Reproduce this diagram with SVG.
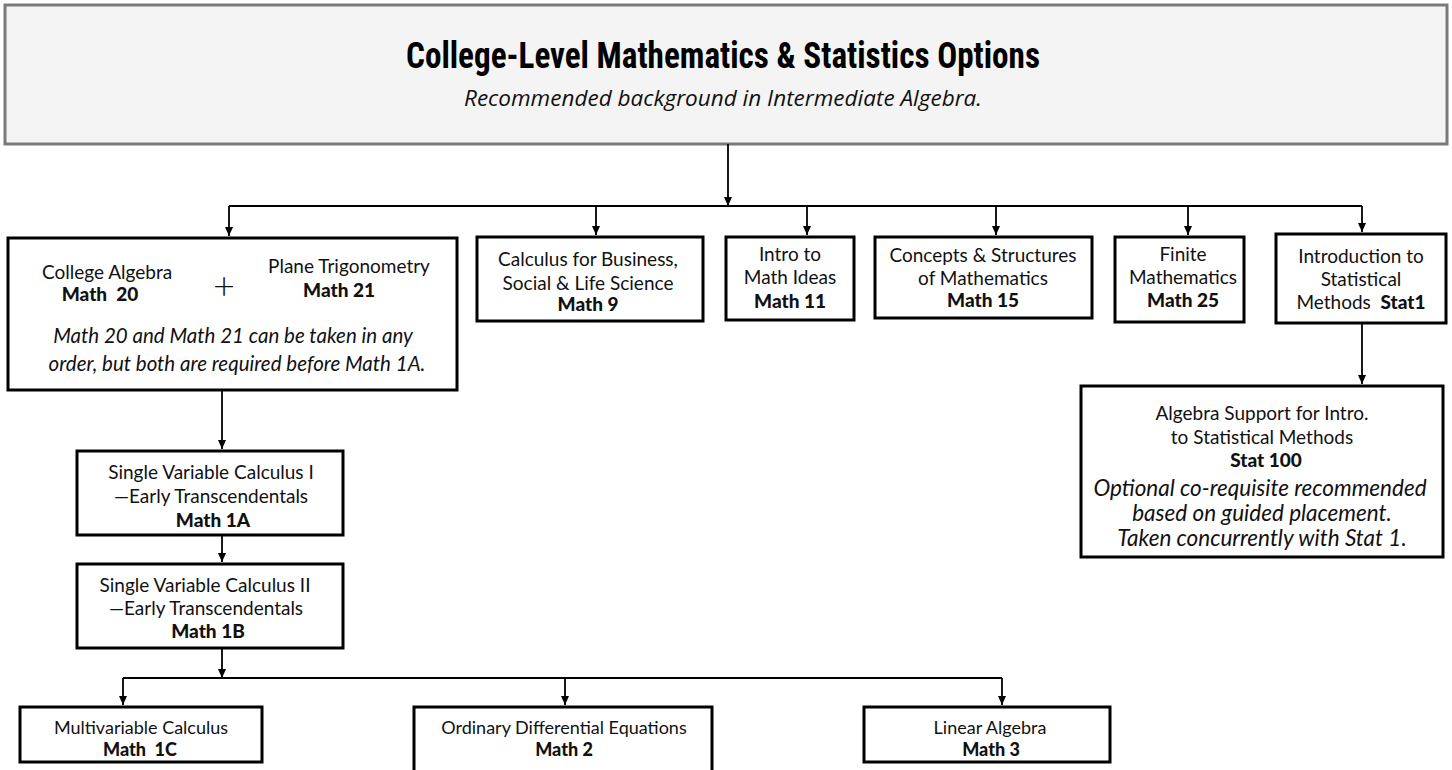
<svg xmlns="http://www.w3.org/2000/svg" width="1452" height="770" viewBox="0 0 1452 770">
<defs>
<marker id="arr" markerUnits="userSpaceOnUse" markerWidth="10" markerHeight="10" refX="9" refY="5" orient="auto">
<path d="M0,1 L9,5 L0,9 z" fill="#000"/>
</marker>
<style>
.box{fill:#fff;stroke:#000;stroke-width:3}
.tbox{fill:#f4f4f4;stroke:#7a7a7a;stroke-width:3}
.t{font-family:Lato,"Open Sans","Liberation Sans",sans-serif;font-size:19px;fill:#111;text-anchor:middle}
.b{font-weight:900}
.i{font-style:italic}
.sm{font-size:18px}
.title{font-family:"Liberation Sans Narrow","Roboto Condensed",Roboto,"Liberation Sans",sans-serif;font-weight:700;font-size:36px;fill:#000;text-anchor:middle}
.sub{font-family:"Open Sans",Lato,"Liberation Sans",sans-serif;font-style:italic;font-size:22px;fill:#111;text-anchor:middle}
.c{stroke:#000;stroke-width:1.8;fill:none}
.ca{stroke:#000;stroke-width:1.8;fill:none;marker-end:url(#arr)}
</style>
</defs>
<g id="title">
<rect class="tbox" x="5" y="5" width="1442" height="139"/>
<text class="title" x="723" y="68" textLength="634" lengthAdjust="spacingAndGlyphs">College-Level Mathematics &amp; Statistics Options</text>
<text class="sub" x="723" y="106" textLength="518" lengthAdjust="spacingAndGlyphs">Recommended background in Intermediate Algebra.</text>
</g>
<g id="connectors">
<line class="ca" x1="728" y1="144" x2="728" y2="206"/>
<line class="c" x1="229" y1="206" x2="1362" y2="206"/>
<line class="ca" x1="229" y1="206" x2="229" y2="236"/>
<line class="ca" x1="596" y1="206" x2="596" y2="235"/>
<line class="ca" x1="807" y1="206" x2="807" y2="235"/>
<line class="ca" x1="996" y1="206" x2="996" y2="235"/>
<line class="ca" x1="1188" y1="206" x2="1188" y2="235"/>
<line class="ca" x1="1362" y1="206" x2="1362" y2="232"/>
<line class="ca" x1="1362" y1="323" x2="1362" y2="384"/>
<line class="ca" x1="222" y1="391" x2="222" y2="449"/>
<line class="ca" x1="222" y1="535" x2="222" y2="562"/>
<line class="ca" x1="222" y1="648" x2="222" y2="678"/>
<line class="c" x1="123" y1="678" x2="1002" y2="678"/>
<line class="ca" x1="123" y1="678" x2="123" y2="705"/>
<line class="ca" x1="565" y1="678" x2="565" y2="705"/>
<line class="ca" x1="1002" y1="678" x2="1002" y2="705"/>
</g>
<g id="math20-21">
<rect class="box" x="8" y="238" width="449" height="152"/>
<text class="t" x="107" y="279">College Algebra</text>
<text class="t b" x="100" y="301" style="white-space:pre">Math  20</text>
<text class="t" x="224" y="299" style="font-size:38px;font-weight:300">+</text>
<text class="t" x="349" y="273">Plane Trigonometry</text>
<text class="t b" x="339" y="297">Math 21</text>
<text class="t i" x="233" y="343" style="font-size:20.5px">Math 20 and Math 21 can be taken in any</text>
<text class="t i" x="237" y="371" style="font-size:20.5px">order, but both are required before Math 1A.</text>
</g>
<g id="math9">
<rect class="box" x="477" y="237" width="226" height="84"/>
<text class="t" x="588" y="266">Calculus for Business,</text>
<text class="t" x="588" y="290">Social &amp; Life Science</text>
<text class="t b" x="588" y="311">Math 9</text>
</g>
<g id="math11">
<rect class="box" x="726" y="237" width="128" height="83"/>
<text class="t" x="790" y="261">Intro to</text>
<text class="t" x="790" y="284">Math Ideas</text>
<text class="t b" x="790" y="308">Math 11</text>
</g>
<g id="math15">
<rect class="box" x="875" y="237" width="217" height="81"/>
<text class="t" x="983" y="262">Concepts &amp; Structures</text>
<text class="t" x="983" y="285">of Mathematics</text>
<text class="t b" x="983" y="307">Math 15</text>
</g>
<g id="math25">
<rect class="box" x="1115" y="237" width="129" height="85"/>
<text class="t" x="1183" y="261">Finite</text>
<text class="t" x="1183" y="284">Mathematics</text>
<text class="t b" x="1183" y="307">Math 25</text>
</g>
<g id="stat1">
<rect class="box" x="1276" y="234" width="170" height="89"/>
<text class="t" x="1361" y="263">Introduction to</text>
<text class="t" x="1361" y="286">Statistical</text>
<text class="t" x="1361" y="309" style="white-space:pre">Methods  <tspan class="b">Stat1</tspan></text>
</g>
<g id="stat100">
<rect class="box" x="1081" y="386" width="362" height="171"/>
<text class="t" x="1262" y="420">Algebra Support for Intro.</text>
<text class="t" x="1262" y="444">to Statistical Methods</text>
<text class="t b" x="1266" y="467">Stat 100</text>
<text class="t i" x="1260" y="496" style="font-size:22.5px">Optional co-requisite recommended</text>
<text class="t i" x="1262" y="521" style="font-size:22.5px">based on guided placement.</text>
<text class="t i" x="1262" y="546" style="font-size:22.5px">Taken concurrently with Stat 1.</text>
</g>
<g id="math1a">
<rect class="box" x="77" y="451" width="266" height="84"/>
<text class="t" x="211" y="479">Single Variable Calculus I</text>
<text class="t" x="211" y="503">—Early Transcendentals</text>
<text class="t b" x="213" y="527">Math 1A</text>
</g>
<g id="math1b">
<rect class="box" x="77" y="564" width="266" height="84"/>
<text class="t" x="205" y="592">Single Variable Calculus II</text>
<text class="t" x="206" y="615">—Early Transcendentals</text>
<text class="t b" x="208" y="638">Math 1B</text>
</g>
<g id="math1c">
<rect class="box" x="20" y="707" width="242" height="55"/>
<text class="t sm" x="141" y="734">Multivariable Calculus</text>
<text class="t sm b" x="140" y="756" style="white-space:pre">Math  1C</text>
</g>
<g id="math2">
<rect class="box" x="414" y="707" width="298" height="70"/>
<text class="t sm" x="564" y="734">Ordinary Differential Equations</text>
<text class="t sm b" x="564" y="756">Math 2</text>
</g>
<g id="math3">
<rect class="box" x="864" y="707" width="246" height="55"/>
<text class="t sm" x="990" y="734">Linear Algebra</text>
<text class="t sm b" x="991" y="756">Math 3</text>
</g>
</svg>
